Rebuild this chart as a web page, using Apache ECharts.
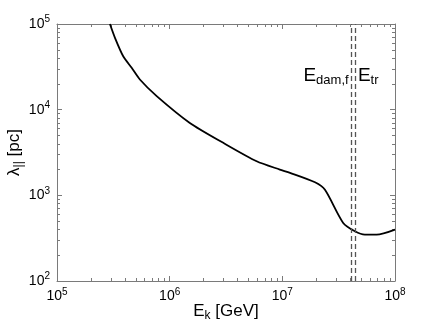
<!DOCTYPE html>
<html>
<head>
<meta charset="utf-8">
<script src="https://cdn.jsdelivr.net/npm/echarts@6/dist/echarts.min.js"></script>
<style>html,body{margin:0;padding:0;background:#fff}#c{width:436px;height:325px}</style>
</head>
<body>
<div id="c"></div>
<script>
// Data
var energyGeV = [2.95e5, 3.27e5, 3.87e5, 4.6e5, 5.44e5, 7.67e5, 1.51e6, 2.99e6, 5.92e6, 9.5e6, 1.17e7, 1.95e7, 2.39e7, 3.47e7, 4.41e7, 5.4e7, 6.87e7, 1e8];
var lambdaPc  = [1e5,   6.9e4,  4.2e4,  3.08e4, 2.25e4, 1.44e4, 7.0e3,  4.1e3,  2.5e3,  2.0e3, 1.83e3, 1.42e3, 1.16e3, 476, 380, 347, 347, 398];
var xDecades = [5, 6, 7, 8];
var yDecades = [2, 3, 4, 5];
var eDamF = 4.12e7;
var eTr = 4.5e7;
var labelLambda = 2.5e4;

var FONT = 'Liberation Sans, Arial, sans-serif';
var AX = '#7a7a7a';
function lg(v){ return Math.log10(v); }
function minors(decs){
  var out = [];
  for (var i = 0; i < decs.length - 1; i++)
    for (var k = 2; k <= 9; k++) out.push(decs[i] + Math.log10(k));
  return out;
}
var powRich = {
  b: {fontSize: 14, fontFamily: FONT, color: '#000'},
  s: {fontSize: 10, fontFamily: FONT, color: '#000', padding: [0, 0, 9, 0]}
};
function powFmt(v){ return '{b|10}{s|' + Math.round(v) + '}'; }

function mkAxis(dim, pos, major, showLabel, decs){
  return {
    type: 'value', position: pos,
    min: decs[0], max: decs[decs.length - 1], interval: 1,
    splitLine: {show: false},
    axisLine: {show: major, onZero: false, lineStyle: {color: AX, width: 1}},
    axisTick: {show: true, inside: true, length: major ? 5 : 3,
      lineStyle: {color: AX, width: 1},
      customValues: major ? decs : minors(decs)},
    axisLabel: {show: showLabel, formatter: powFmt, rich: powRich,
      margin: dim === 'x' ? 6 : 7}
  };
}

var chart = echarts.init(document.getElementById('c'));
var lineData = energyGeV.map(function(e, i){ return [lg(e), lg(lambdaPc[i])]; });

chart.setOption({
  animation: false,
  backgroundColor: '#fff',
  grid: {left: 57, right: 41, top: 24, bottom: 44, containLabel: false, outerBoundsMode: 'none'},
  xAxis: [
    Object.assign(mkAxis('x', 'bottom', true, true, xDecades), {
      name: '{e|E}{k|k}{e| [GeV]}', nameLocation: 'middle', nameGap: 20,
      nameMoveOverlap: false,
      nameTextStyle: {rich: {
        e: {fontSize: 17, fontFamily: FONT, color: '#000'},
        k: {fontSize: 12, fontFamily: FONT, color: '#000', padding: [9, 0, 0, 0]}
      }}
    }),
    mkAxis('x', 'top', true, false, xDecades),
    mkAxis('x', 'bottom', false, false, xDecades),
    mkAxis('x', 'top', false, false, xDecades)
  ],
  yAxis: [
    Object.assign(mkAxis('y', 'left', true, true, yDecades), {
      name: '{e|λ}{k|||}{e| [pc]}', nameLocation: 'middle', nameGap: 32, nameRotate: 90,
      nameMoveOverlap: false,
      nameTextStyle: {rich: {
        e: {fontSize: 17, fontFamily: FONT, color: '#000'},
        k: {fontSize: 12, fontFamily: FONT, color: '#000', padding: [10, 0, 0, 0]}
      }}
    }),
    mkAxis('y', 'right', true, false, yDecades),
    mkAxis('y', 'left', false, false, yDecades),
    mkAxis('y', 'right', false, false, yDecades)
  ],
  series: [{
    type: 'line',
    data: lineData,
    xAxisIndex: 0, yAxisIndex: 0,
    showSymbol: false, symbol: 'none',
    smooth: 0.25,
    lineStyle: {color: '#000', width: 1.8},
    markLine: {
      silent: true, symbol: 'none',
      lineStyle: {color: '#555', type: [5, 3], width: 1.3},
      label: {show: false},
      data: [{xAxis: lg(eDamF)}, {xAxis: lg(eTr)}]
    },
    markPoint: {
      symbol: 'circle', symbolSize: 0, silent: true,
      data: [
        {coord: [lg(eDamF), lg(labelLambda)],
         label: {show: true, position: 'left', distance: 3, formatter: '{e|E}{d|dam,f}',
           rich: {e: {fontSize: 19, fontFamily: FONT, color: '#000'},
                  d: {fontSize: 13, fontFamily: FONT, color: '#000', padding: [10, 0, 0, 0]}}}},
        {coord: [lg(eTr), lg(labelLambda)],
         label: {show: true, position: 'right', distance: 2, formatter: '{e|E}{d|tr}',
           rich: {e: {fontSize: 19, fontFamily: FONT, color: '#000'},
                  d: {fontSize: 13, fontFamily: FONT, color: '#000', padding: [10, 0, 0, 0]}}}}
      ]
    }
  }]
});
</script>
</body>
</html>
